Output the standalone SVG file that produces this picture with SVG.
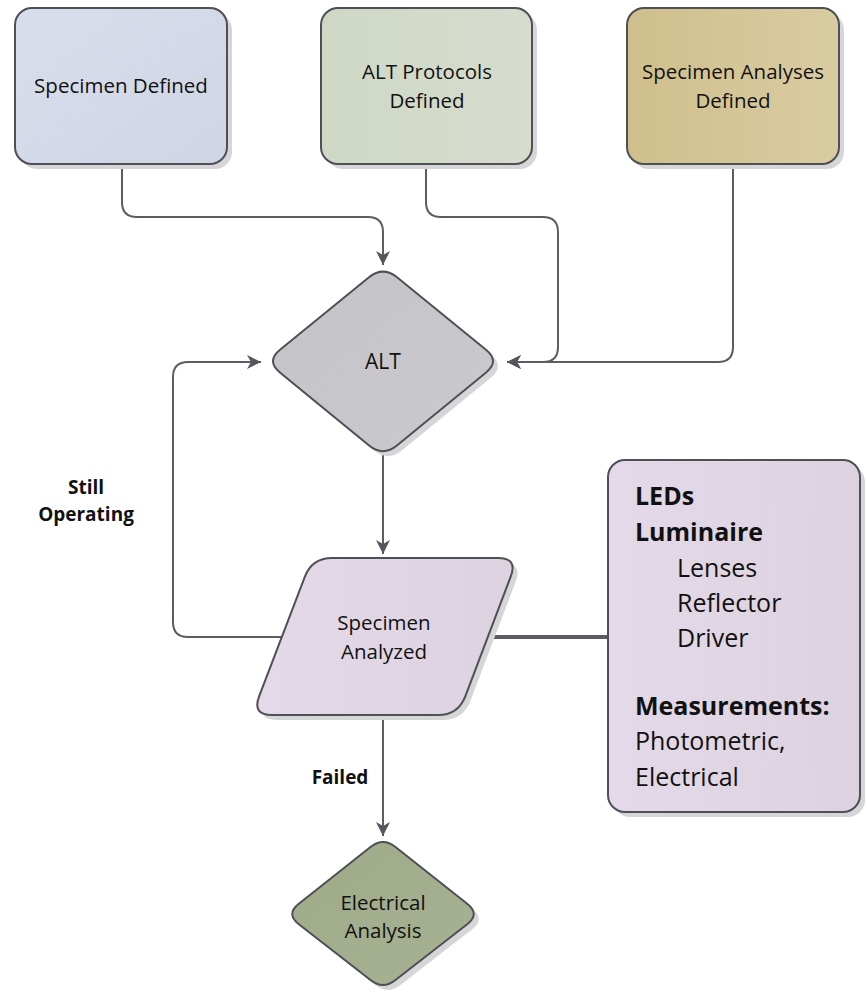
<svg xmlns="http://www.w3.org/2000/svg" width="867" height="993" viewBox="0 0 867 993">
<defs>
<linearGradient id="gBlue" x1="0" y1="0" x2="1" y2="1"><stop offset="0" stop-color="#d8deec"/><stop offset="1" stop-color="#d0d5e5"/></linearGradient>
<linearGradient id="gGreen" x1="0" y1="0" x2="1" y2="0"><stop offset="0" stop-color="#cfd8c5"/><stop offset="1" stop-color="#d6dcce"/></linearGradient>
<linearGradient id="gTan" x1="0" y1="0" x2="1" y2="0"><stop offset="0" stop-color="#cfbf8c"/><stop offset="1" stop-color="#dacca2"/></linearGradient>
<linearGradient id="gGray" x1="0" y1="0" x2="1" y2="1"><stop offset="0" stop-color="#c4c3c8"/><stop offset="1" stop-color="#cac9ce"/></linearGradient>
<linearGradient id="gLav" x1="0" y1="0" x2="1" y2="0"><stop offset="0" stop-color="#e4d9e8"/><stop offset="1" stop-color="#ddd2df"/></linearGradient>
<linearGradient id="gOlive" x1="0" y1="0" x2="1" y2="1"><stop offset="0" stop-color="#9faa88"/><stop offset="1" stop-color="#a6b292"/></linearGradient>
<marker id="arr" markerUnits="userSpaceOnUse" markerWidth="18" markerHeight="18" viewBox="0 0 18 18" refX="16" refY="9" orient="auto">
<path d="M2,2 L16,9 L2,16 L6,9 Z" fill="#55555c"/>
</marker>
</defs>
<style>
.shape{stroke:#4f4f56;stroke-width:2}
.shadow{fill:#d6d6d9;stroke:none}
.con{fill:none;stroke:#5c5c63;stroke-width:2}
.t{font-family:"Open Sans","Noto Sans",sans-serif;font-size:20.5px;fill:#111;text-anchor:middle}
.lbl{font-family:"Open Sans","Noto Sans",sans-serif;font-size:19px;font-weight:bold;fill:#111;text-anchor:middle}
.bt{font-family:"Open Sans","Noto Sans",sans-serif;font-size:25px;fill:#111}
.b{font-weight:bold}
</style>
<rect width="867" height="993" fill="#ffffff"/>

<g id="connectors">
<path class="con" d="M122,164 V202 Q122,217 137,217 H368 Q383,217 383,232 V265" marker-end="url(#arr)"/>
<path class="con" d="M426,164 V202 Q426,217 441,217 H543 Q558,217 558,232 V347 Q558,362 543,362 H507" marker-end="url(#arr)"/>
<path class="con" d="M733,164 V347 Q733,362 718,362 H507" marker-end="url(#arr)"/>
<path class="con" d="M383,451 V554" marker-end="url(#arr)"/>
<path class="con" d="M282,637 H188 Q173,637 173,622 V377 Q173,362 188,362 H261" marker-end="url(#arr)"/>
<path class="con" d="M488,637 H608" style="stroke-width:4"/>
<path class="con" d="M383,715 V836" marker-end="url(#arr)"/>
</g>

<g id="specimen-defined">
<rect class="shadow" x="20" y="13" width="212" height="156" rx="17"/>
<rect class="shape" x="15" y="8" width="212" height="156" rx="17" fill="url(#gBlue)"/>
<text class="t" x="121" y="93">Specimen Defined</text>
</g>

<g id="alt-protocols-defined">
<rect class="shadow" x="326" y="13" width="211" height="156" rx="17"/>
<rect class="shape" x="321" y="8" width="211" height="156" rx="17" fill="url(#gGreen)"/>
<text class="t" x="427" y="79">ALT Protocols</text>
<text class="t" x="427" y="108">Defined</text>
</g>

<g id="specimen-analyses-defined">
<rect class="shadow" x="632" y="13" width="212" height="156" rx="17"/>
<rect class="shape" x="627" y="8" width="212" height="156" rx="17" fill="url(#gTan)"/>
<text class="t" x="733" y="79">Specimen Analyses</text>
<text class="t" x="733" y="108">Defined</text>
</g>

<g id="alt">
<path class="shadow" transform="translate(5,5)" d="M397,277.3 L486,349.7 Q500,361 486.1,372.4 L396.9,445.6 Q383,457 369.1,445.6 L279.9,372.4 Q266,361 280,349.7 L369,277.3 Q383,266 397,277.3 Z"/>
<path class="shape" fill="url(#gGray)" d="M397,277.3 L486,349.7 Q500,361 486.1,372.4 L396.9,445.6 Q383,457 369.1,445.6 L279.9,372.4 Q266,361 280,349.7 L369,277.3 Q383,266 397,277.3 Z"/>
<text class="t" x="383" y="369" style="font-size:21px">ALT</text>
</g>

<g id="specimen-analyzed">
<path class="shadow" transform="translate(5,5)" d="M332,558 L498,558 Q518,558 510.7,576.7 L465.3,696.3 Q458,715 438,715 L272,715 Q252,715 259.1,696.3 L304.9,576.7 Q312,558 332,558 Z"/>
<path class="shape" fill="url(#gLav)" d="M332,558 L498,558 Q518,558 510.7,576.7 L465.3,696.3 Q458,715 438,715 L272,715 Q252,715 259.1,696.3 L304.9,576.7 Q312,558 332,558 Z"/>
<text class="t" x="384" y="630">Specimen</text>
<text class="t" x="384" y="659">Analyzed</text>
</g>

<g id="components-box">
<rect class="shadow" x="613" y="465" width="252" height="352" rx="17"/>
<rect class="shape" x="608" y="460" width="252" height="352" rx="17" fill="url(#gLav)"/>
<text class="bt b" x="635" y="505">LEDs</text>
<text class="bt b" x="635" y="541">Luminaire</text>
<text class="bt" x="677" y="577">Lenses</text>
<text class="bt" x="677" y="612">Reflector</text>
<text class="bt" x="677" y="647">Driver</text>
<text class="bt b" x="635" y="715">Measurements:</text>
<text class="bt" x="635" y="750">Photometric,</text>
<text class="bt" x="635" y="786">Electrical</text>
</g>

<g id="electrical-analysis">
<path class="shadow" transform="translate(5,5)" d="M395.5,847 L467.5,904 Q480,914 467.5,924 L395.5,980 Q383,990 370.5,980 L298.5,924 Q286,914 298.5,904 L370.5,847 Q383,837 395.5,847 Z"/>
<path class="shape" fill="url(#gOlive)" d="M395.5,847 L467.5,904 Q480,914 467.5,924 L395.5,980 Q383,990 370.5,980 L298.5,924 Q286,914 298.5,904 L370.5,847 Q383,837 395.5,847 Z"/>
<text class="t" x="383" y="910">Electrical</text>
<text class="t" x="383" y="938">Analysis</text>
</g>

<g id="labels">
<text class="lbl" x="86" y="494">Still</text>
<text class="lbl" x="86" y="521">Operating</text>
<text class="lbl" x="340" y="784">Failed</text>
</g>
</svg>
